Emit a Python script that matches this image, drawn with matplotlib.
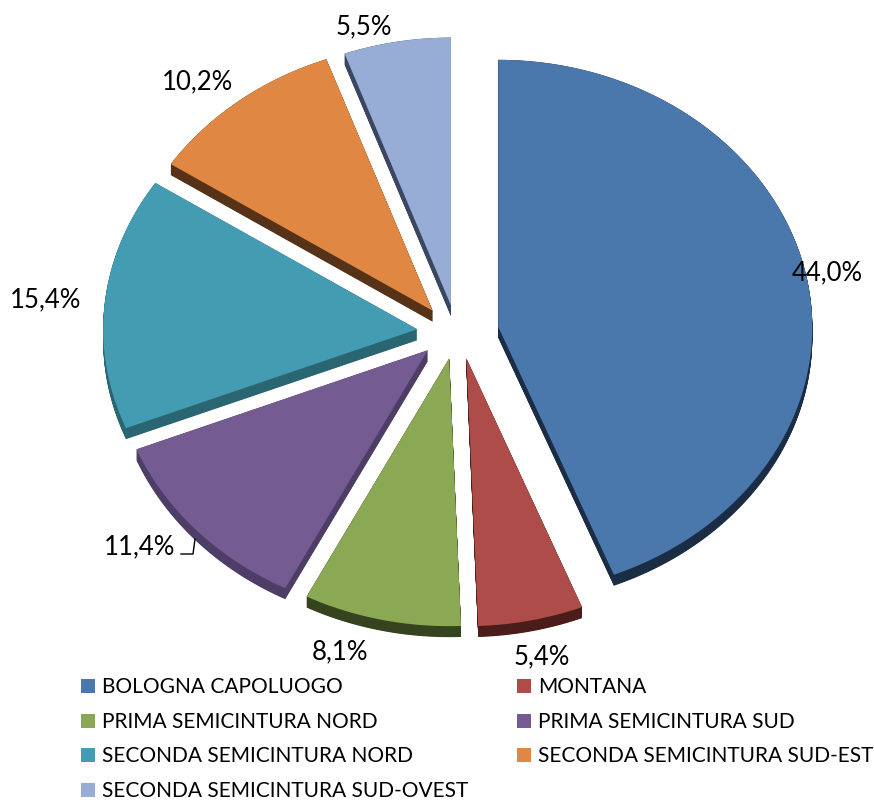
import matplotlib
matplotlib.use("Agg")
import matplotlib.pyplot as plt
from matplotlib.patches import Rectangle, Polygon
import numpy as np

categories = ["BOLOGNA CAPOLUOGO", "MONTANA", "PRIMA SEMICINTURA NORD",
              "PRIMA SEMICINTURA SUD", "SECONDA SEMICINTURA NORD",
              "SECONDA SEMICINTURA SUD-EST", "SECONDA SEMICINTURA SUD-OVEST"]
values = [44.0, 5.4, 8.1, 11.4, 15.4, 10.2, 5.5]
labels = ["44,0%", "5,4%", "8,1%", "11,4%", "15,4%", "10,2%", "5,5%"]
top_colors = ["#4A78AC", "#AD4C48", "#8BA954", "#745C92", "#449CB3", "#E08843", "#97ADD5"]
side_colors = ["#1B2C45", "#4A1C1A", "#36431F", "#4E3D66", "#2A6672", "#563318", "#3B4660"]

W, H = 874, 804
fig = plt.figure(figsize=(W / 100, H / 100), dpi=100)
ax = fig.add_axes([0, 0, 1, 1])
ax.set_xlim(0, W)
ax.set_ylim(H, 0)
ax.axis("off")

FONT = ["Lato", "DejaVu Sans"]

# pie geometry (pixels)
cx, cy = 458, 333
rx, ry = 314, 263
ex, ey = 41, 27
depth = 11
persp = 0.015


def project(verts, dy=0.0):
    X, Y = verts[:, 0], verts[:, 1]
    x = cx + rx * X
    y = cy - ry * Y - ry * persp * Y * np.abs(Y) + dy
    return np.column_stack([x, y])


total = sum(values)
fr = np.cumsum([0] + values) / total
items = []
for i, v in enumerate(values):
    a, b = fr[i], fr[i + 1]
    phi = np.deg2rad((a + b) / 2 * 360)
    ux, uy = ex / rx * np.sin(phi), ey / ry * np.cos(phi)
    th = np.deg2rad(np.linspace(a * 360, b * 360, 200))
    arc = np.column_stack([ux + np.sin(th), uy + np.cos(th)])
    poly = np.vstack([[ux, uy], arc])
    items.append((cy - ey * np.cos(phi), i, poly))

for _, i, poly in sorted(items, key=lambda t: t[0]):
    for k in np.arange(0, depth + 0.01, 0.5):
        ax.add_patch(Polygon(project(poly, k), closed=True, facecolor=side_colors[i],
                             edgecolor="none"))
    ax.add_patch(Polygon(project(poly), closed=True, facecolor=top_colors[i],
                         edgecolor="none"))

# data labels
label_pos = [(827, 273), (542, 657), (340, 652), (140, 547), (46, 300), (197, 82), (364, 27)]
for (x, y), t in zip(label_pos, labels):
    ax.text(x, y, t, ha="center", va="center", fontsize=18.5, family=FONT, color="black")
# leader line for 11,4%
ax.plot([181, 193, 195], [555, 555, 540], color="black", lw=1)

# legend (row-wise, two columns)
col_x = [81, 517]
row_y = [687, 722, 756, 791]
for i, name in enumerate(categories):
    r, c = divmod(i, 2)
    x0, y0 = col_x[c], row_y[r]
    ax.add_patch(Rectangle((x0, y0 - 7), 14, 14, facecolor=top_colors[i], edgecolor="none"))
    ax.text(x0 + 21, y0, name, ha="left", va="center", fontsize=15, family=FONT, color="black")

fig.savefig("out.png", dpi=100)
